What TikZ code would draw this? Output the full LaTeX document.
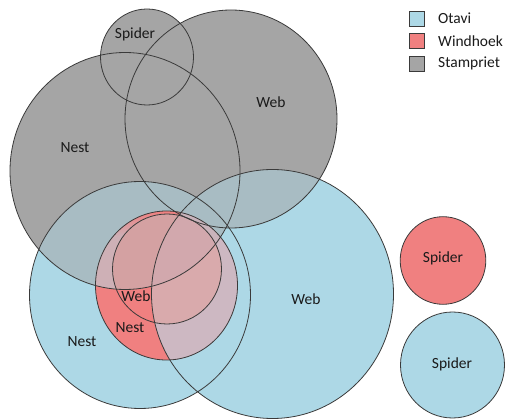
\documentclass[tikz,border=0pt]{standalone}
\usepackage{fontspec}
\setmainfont{Carlito}
\definecolor{cblue}{HTML}{ADD8E6}
\definecolor{cgrey}{HTML}{A5A5A5}
\definecolor{cgb}{HTML}{A8BCC3}
\definecolor{cred}{HTML}{F08080}
\definecolor{crg}{HTML}{CEB0B6}
\definecolor{crb}{HTML}{CDB8C2}
\definecolor{crbg}{HTML}{C9B3BB}
\definecolor{crwg}{HTML}{D4A1A2}
\definecolor{crwb}{HTML}{D9AAAC}
\definecolor{crwbg}{HTML}{D2A8AD}
\definecolor{cline}{HTML}{3A3A3A}
\definecolor{ctext}{HTML}{1A1A1A}
\begin{document}
\begin{tikzpicture}[x=1pt,y=-1pt,
  cGS/.style={insert path={(147,57) ellipse [x radius=46.5, y radius=48]}},
  cGW/.style={insert path={(231,119) ellipse [x radius=106, y radius=109]}},
  cGN/.style={insert path={(125,171) ellipse [x radius=115, y radius=118.5]}},
  cBN/.style={insert path={(140,295) ellipse [x radius=110.5, y radius=113.5]}},
  cBW/.style={insert path={(272.5,294) ellipse [x radius=121, y radius=124.5]}},
  cRN/.style={insert path={(166.5,285.5) ellipse [x radius=71, y radius=74.5]}},
  cRW/.style={insert path={(167,269) ellipse [x radius=54.5, y radius=55]}},
  cRS/.style={insert path={(443,260.5) ellipse [x radius=42.8, y radius=43.8]}},
  cBS/.style={insert path={(452.5,365) ellipse [x radius=52, y radius=53]}},
  outline/.style={draw=cline, line width=0.8pt},
  lbl/.style={text=ctext, font=\fontsize{15.5}{18}\selectfont, inner sep=0pt},
  legbox/.style={draw=cline, line width=0.8pt, minimum size=15pt, inner sep=0pt}
]
\useasboundingbox (0,0) rectangle (506,419);
% base fills
\fill[cblue, cBN, cBW];
\fill[cgrey, cGS, cGW, cGN];
\begin{scope}
  \clip[cBN, cBW];
  \fill[cgb, cGS, cGW, cGN];
\end{scope}
% Windhoek circles
\begin{scope}
  \clip[cRN];
  \fill[cred] (0,0) rectangle (506,419);
  \fill[crg, cGS, cGW, cGN];
  \begin{scope}
    \clip (80,200) rectangle (260,236);
    \shade[top color=cred, bottom color=crg] (80,211) rectangle (260,236);
  \end{scope}
  \fill[crb, cBW];
  \begin{scope}
    \clip[cBW];
    \fill[crbg, cGS, cGW, cGN];
  \end{scope}
  \begin{scope}
    \clip[cRW];
    \fill[crwg, cGS, cGW, cGN];
    \fill[crwb, cBW];
    \begin{scope}
      \clip[cBW];
      \fill[crwbg, cGS, cGW, cGN];
    \end{scope}
  \end{scope}
\end{scope}
\fill[cred, cRS];
\fill[cblue, cBS];
% outlines
\path[outline, cGS];
\path[outline, cGW];
\path[outline, cGN];
\path[outline, cBN];
\path[outline, cBW];
\path[outline, cRN];
\path[outline, cRW];
\path[outline, cRS];
\path[outline, cBS];
% labels
\node[lbl] (gspider) at (135,34) {Spider};
\node[lbl] (gweb) at (271,102) {Web};
\node[lbl] (gnest) at (75,148) {Nest};
\node[lbl] (rweb) at (136,296) {Web};
\node[lbl] (rnest) at (130,328) {Nest};
\node[lbl] (bnest) at (82,342) {Nest};
\node[lbl] (bweb) at (306,299) {Web};
\node[lbl] (rspider) at (443,258) {Spider};
\node[lbl] (bspider) at (452,364) {Spider};
% legend
\node[legbox, fill=cblue] (lo) at (416.5,18.5) {};
\node[legbox, fill=cred] (lw) at (416.5,41) {};
\node[legbox, fill=cgrey] (ls) at (416.5,64) {};
\node[lbl, anchor=west] (to) at (438,18.5) {Otavi};
\node[lbl, anchor=west] (tw) at (438,41.5) {Windhoek};
\node[lbl, anchor=west] (ts) at (438,63.5) {Stampriet};
\end{tikzpicture}
\end{document}
